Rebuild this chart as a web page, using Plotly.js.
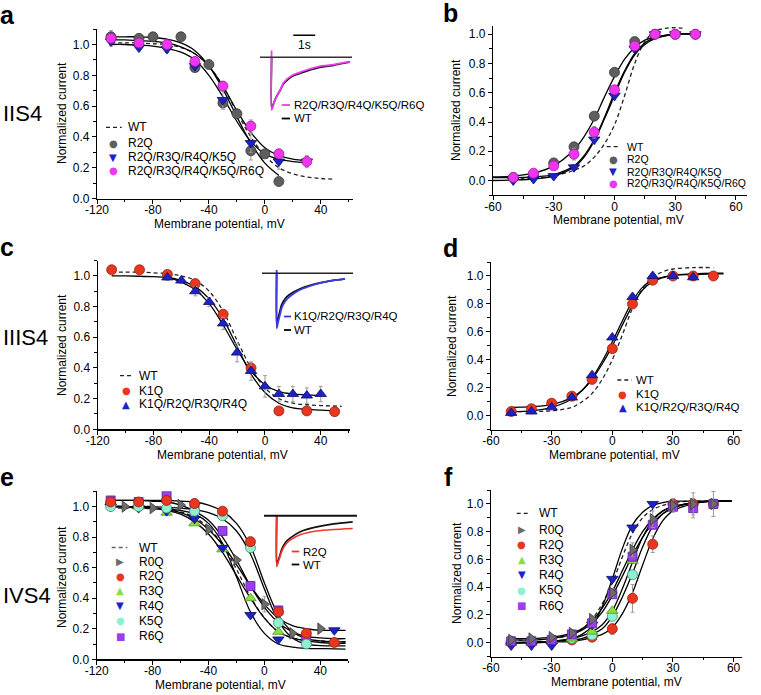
<!DOCTYPE html>
<html><head><meta charset="utf-8">
<script src="https://cdn.plot.ly/plotly-3.0.1.min.js"></script>
<style>html,body{margin:0;padding:0;background:#fff;} #chart{width:761px;height:695px;}</style>
</head><body><div id="chart"></div>
<script>
// ================= DATA =================
// tick labels
const xTicksInact = [-120,-80,-40,0,40];
const xTickTextInact = ['-120','-80','-40','0','40'];
const xTicksAct = [-60,-30,0,30,60];
const xTickTextAct = ['-60','-30','0','30','60'];
const yTicks = [0,0.2,0.4,0.6,0.8,1.0];
const yTickText = ['0.0','0.2','0.4','0.6','0.8','1.0'];

// ---- Panel a : IIS4 steady-state inactivation ----
const aV_R2Q = [-110,-90,-80,-60,-50,-40,-30,-20,-10,0,10];
const aI_R2Q = [1.05,1.04,1.05,1.05,0.85,0.87,0.62,0.55,0.31,0.29,0.11];
const aE_R2Q = [0.04,0,0,0,0,0,0.03,0,0.06,0,0];
const aV_mut = [-110,-90,-70,-50,-30,-10,10,30];
const aI_K5Q4 = [1.02,0.98,0.97,0.86,0.64,0.36,0.24,0.24];
const aE_K5Q4 = [0.03,0.02,0.02,0.02,0.06,0.06,0.05,0.03];
const aI_R6Q5 = [1.04,1.01,1.00,0.89,0.73,0.47,0.29,0.24];
const aE_R6Q5 = [0.02,0.02,0.02,0.02,0.03,0.04,0.03,0.04];
const aFitV_R2Q = [-110,-100,-90,-80,-70,-60,-50,-40,-30,-20,-10,0,10];
const aFit_R2Q = [1.05,1.05,1.05,1.045,1.035,1.01,0.96,0.86,0.71,0.53,0.36,0.23,0.15];
const aFitV_mut = [-110,-100,-90,-80,-70,-60,-50,-40,-30,-20,-10,0,10,20,30];
const aFit_K5Q4 = [1.0,1.0,0.995,0.99,0.975,0.95,0.9,0.8,0.66,0.5,0.37,0.29,0.255,0.24,0.235];
const aFit_R6Q5 = [1.03,1.03,1.025,1.02,1.01,0.985,0.94,0.86,0.73,0.57,0.43,0.33,0.28,0.255,0.245];
const aFitV_WT = [-110,-100,-90,-80,-70,-60,-50,-40,-30,-20,-10,0,10,20,30,40,50];
const aFit_WT = [1.01,1.01,1.01,1.005,1.0,0.98,0.94,0.86,0.73,0.56,0.40,0.28,0.20,0.16,0.14,0.13,0.125];
// inset a: current traces (time s, normalized current)
const aTr_t = [0.53,0.53,0.60,0.67,0.76,0.94,1.06,1.27,1.52,1.85,2.13,2.45,2.72,3.05,3.35,3.70,4.10];
const aTr_mut = [0.13,-1.0,-0.92,-0.83,-0.75,-0.60,-0.49,-0.40,-0.33,-0.28,-0.24,-0.20,-0.17,-0.155,-0.14,-0.11,-0.08];
const aTr_WT = [0,-0.98,-0.90,-0.82,-0.74,-0.61,-0.51,-0.42,-0.35,-0.30,-0.26,-0.22,-0.19,-0.17,-0.15,-0.12,-0.09];

// ---- Panel b : IIS4 activation ----
const bV = [-50,-40,-30,-20,-10,0,10,20,30,40];
const bI_R2Q = [0.02,0.04,0.12,0.23,0.44,0.74,0.95,1.0,1.0,1.0];
const bE_R2Q = [0,0,0.03,0.03,0,0,0,0,0,0];
const bI_K5Q4 = [0.0,0.01,0.03,0.09,0.28,0.58,0.90,1.0,1.0,1.0];
const bE_K5Q4 = [0,0,0,0.02,0.03,0.03,0,0,0,0];
const bI_R6Q5 = [0.02,0.05,0.10,0.18,0.33,0.62,0.92,1.0,1.0,1.0];
const bE_R6Q5 = [0,0,0,0.04,0.04,0,0,0,0,0];
const bFitV = [-60,-50,-40,-30,-20,-15,-10,-5,0,5,10,15,20,30,40];
const bFit_R2Q = [0.025,0.03,0.05,0.10,0.21,0.30,0.42,0.57,0.71,0.83,0.91,0.96,0.98,1.0,1.005];
const bFit_K5Q4 = [0.0,0.003,0.01,0.03,0.09,0.16,0.27,0.42,0.58,0.74,0.86,0.93,0.97,1.0,1.0];
const bFit_R6Q5 = [0.02,0.02,0.025,0.04,0.10,0.17,0.28,0.43,0.60,0.75,0.87,0.94,0.975,1.0,1.0];
const bFitV_WT = [-50,-40,-30,-20,-15,-10,-5,0,5,10,15,20,25,30,35];
const bFit_WT = [0.01,0.015,0.03,0.07,0.10,0.16,0.25,0.38,0.58,0.80,0.95,1.02,1.04,1.045,1.04];

// ---- Panel c : IIIS4 inactivation ----
const cV_K1Q = [-110,-90,-70,-50,-30,-10,10,30,50];
const cI_K1Q = [1.04,1.04,1.01,0.95,0.75,0.40,0.12,0.12,0.115];
const cE_K1Q = [0,0,0,0.02,0.02,0.03,0,0,0];
const cV_R4Q4 = [-70,-60,-50,-40,-30,-20,-10,0,10,20,30,40];
const cI_R4Q4 = [0.99,0.97,0.90,0.83,0.69,0.50,0.38,0.28,0.23,0.23,0.22,0.23];
const cE_R4Q4 = [0.02,0.02,0.03,0.03,0.04,0.06,0.06,0.07,0.05,0.05,0.05,0.05];
const cFitV_K1Q = [-110,-100,-90,-80,-70,-60,-50,-40,-30,-20,-10,0,10,20,30,40,50];
const cFit_K1Q = [1.0,1.0,0.998,0.995,0.99,0.97,0.93,0.85,0.72,0.54,0.36,0.24,0.17,0.14,0.13,0.125,0.12];
const cFitV_R4Q4 = [-70,-60,-50,-40,-30,-20,-10,0,10,20,30,40];
const cFit_R4Q4 = [0.99,0.96,0.91,0.82,0.68,0.52,0.38,0.29,0.245,0.23,0.225,0.22];
const cFitV_WT = [-110,-100,-90,-80,-70,-60,-50,-40,-30,-20,-10,0,10,20,30,40,55];
const cFit_WT = [1.025,1.025,1.025,1.02,1.015,1.0,0.97,0.90,0.77,0.58,0.40,0.27,0.20,0.17,0.16,0.155,0.15];
// inset c
const cTr_t = [0.67,0.67,0.74,0.81,0.90,1.08,1.28,1.74,2.35,2.95,3.41,3.79];
const cTr_mut = [0.06,-1.0,-0.88,-0.77,-0.63,-0.50,-0.42,-0.30,-0.21,-0.15,-0.12,-0.10];
const cTr_WT = [0,-0.95,-0.82,-0.70,-0.57,-0.45,-0.38,-0.28,-0.20,-0.15,-0.12,-0.10];

// ---- Panel d : IIIS4 activation ----
const dV_K1Q = [-50,-40,-30,-20,-10,0,10,20,30,40,50];
const dI_K1Q = [0.03,0.05,0.09,0.14,0.26,0.48,0.80,0.97,1.0,1.0,1.0];
const dV_R4Q4 = [-50,-40,-30,-20,-10,0,10,20,30,40];
const dI_R4Q4 = [0.02,0.03,0.06,0.13,0.29,0.56,0.85,1.0,1.0,0.99];
const dFitV = [-50,-40,-30,-20,-15,-10,-5,0,5,10,15,20,30,40,50,55];
const dFit_K1Q = [0.06,0.065,0.08,0.13,0.18,0.26,0.37,0.50,0.65,0.79,0.90,0.96,1.005,1.015,1.02,1.02];
const dFit_R4Q4 = [0.03,0.035,0.06,0.12,0.18,0.27,0.39,0.53,0.68,0.82,0.92,0.97,1.005,1.01,1.015,1.015];
const dFitV_WT = [-50,-40,-30,-20,-15,-10,-5,0,5,10,15,20,25,30,40,50];
const dFit_WT = [0.03,0.03,0.035,0.06,0.10,0.16,0.26,0.40,0.58,0.77,0.91,0.99,1.03,1.05,1.06,1.06];

// ---- Panel e : IVS4 inactivation ----
const eV_R0Q = [-100,-80,-60,-40,-20,0,20,40];
const eI_R0Q = [1.0,0.99,1.01,0.85,0.65,0.36,0.17,0.20];
const eE_R0Q = [0,0,0,0,0,0.05,0.02,0];
const eV_R2Q = [-110,-90,-70,-50,-30,-10,10,30,50];
const eI_R2Q = [1.03,1.03,1.04,1.02,0.97,0.77,0.31,0.17,0.11];
const eE_R2Q = [0,0,0,0.03,0,0.03,0,0,0];
const eV_R3Q = [-110,-90,-70,-50,-30,-10,10,50];
const eI_R3Q = [1.03,1.0,0.96,0.89,0.72,0.40,0.18,0.11];
const eV_R4Q = [-110,-90,-70,-50,-30,-10,10,50];
const eI_R4Q = [1.0,0.99,0.97,0.92,0.73,0.29,0.13,0.19];
const eV_K5Q = [-110,-90,-70,-50,-30,-10,10,30];
const eI_K5Q = [1.0,1.0,0.99,0.97,0.94,0.73,0.24,0.10];
const eV_R6Q = [-110,-90,-70,-50,-30,-10,10,30];
const eI_R6Q = [1.04,1.03,1.07,0.99,0.84,0.48,0.32,0.13];
const eFitV = [-110,-100,-90,-80,-70,-60,-50,-40,-30,-20,-10,0,10,20,30,40,50,58];
const eFit_WT  = [0.99,0.99,0.99,0.985,0.98,0.965,0.93,0.86,0.75,0.59,0.41,0.27,0.18,0.14,0.125,0.12,0.115,0.115];
const eFit_R0Q = [1.0,1.0,0.995,0.99,0.98,0.96,0.92,0.85,0.75,0.62,0.48,0.36,0.27,0.22,0.20,0.19,0.19,0.19];
const eFit_R2Q = [1.04,1.04,1.04,1.04,1.04,1.035,1.03,1.01,0.97,0.89,0.74,0.50,0.29,0.18,0.135,0.12,0.115,0.115];
const eFit_R3Q = [1.0,1.0,0.995,0.99,0.975,0.95,0.90,0.82,0.70,0.55,0.40,0.27,0.18,0.14,0.12,0.11,0.105,0.105];
const eFit_R4Q = [1.0,1.0,0.995,0.99,0.985,0.975,0.95,0.89,0.76,0.54,0.31,0.17,0.10,0.08,0.072,0.07,0.068,0.066];
const eFit_K5Q = [1.0,1.0,1.0,1.0,0.995,0.99,0.98,0.96,0.92,0.84,0.69,0.46,0.25,0.14,0.10,0.09,0.088,0.088];
const eFit_R6Q = [1.04,1.04,1.04,1.035,1.03,1.01,0.97,0.91,0.80,0.65,0.48,0.34,0.24,0.18,0.15,0.14,0.135,0.135];
// inset e
const eTr_t = [0.58,0.58,0.65,0.72,0.81,0.99,1.22,1.68,2.41,3.18,4.05];
const eTr_R2Q = [0,-1.0,-0.90,-0.82,-0.70,-0.56,-0.47,-0.37,-0.30,-0.27,-0.25];
const eTr_WT = [0,-0.97,-0.88,-0.79,-0.66,-0.52,-0.43,-0.31,-0.22,-0.16,-0.12];

// ---- Panel f : IVS4 activation ----
const fV = [-50,-40,-30,-20,-10,0,10,20,30,40,50];
const fI_R0Q = [0.02,0.03,0.04,0.07,0.17,0.36,0.67,0.89,0.99,1.0,1.0];
const fE_R0Q = [0,0,0,0,0.02,0.03,0.05,0.06,0.05,0.08,0.09];
const fI_R2Q = [0.01,0.01,0.01,0.02,0.04,0.10,0.32,0.71,1.0,1.0,1.0];
const fE_R2Q = [0,0,0,0,0,0.04,0.1,0.06,0,0,0];
const fV_R3Q = [-50,-40,-30,-20,-10,0,10];
const fI_R3Q = [0.0,0.0,0.01,0.03,0.08,0.23,0.59];
const fV_R4Q = [-50,-40,-30,-10,0,10,20];
const fI_R4Q = [-0.02,-0.02,-0.02,0.13,0.46,0.83,1.0];
const fV_K5Q = [-50,-40,-30,-20,-10,0,10];
const fI_K5Q = [0.01,0.01,0.01,0.03,0.055,0.19,0.49];
const fI_R6Q = [0.01,0.01,0.02,0.06,0.14,0.35,0.62,0.85,0.98,0.97,1.0];
const fE_R6Q = [0,0,0,0,0,0,0,0,0,0.07,0];
const fFitV = [-50,-40,-30,-20,-15,-10,-5,0,5,10,15,20,25,30,40,50,59];
const fFit_WT  = [0.02,0.02,0.03,0.06,0.10,0.17,0.28,0.43,0.62,0.79,0.90,0.96,0.99,1.01,1.02,1.02,1.02];
const fFit_R0Q = [0.03,0.03,0.04,0.07,0.10,0.16,0.25,0.37,0.52,0.67,0.80,0.89,0.95,0.98,1.01,1.02,1.02];
const fFit_R2Q = [0.0,0.0,0.005,0.01,0.02,0.04,0.06,0.11,0.21,0.36,0.56,0.75,0.88,0.95,1.0,1.02,1.02];
const fFit_R3Q = [0.0,0.005,0.01,0.03,0.05,0.08,0.13,0.23,0.39,0.58,0.76,0.88,0.95,0.98,1.01,1.02,1.02];
const fFit_R4Q = [0.0,0.0,0.01,0.03,0.06,0.12,0.26,0.46,0.68,0.85,0.94,0.99,1.01,1.02,1.02,1.02,1.02];
const fFit_K5Q = [0.0,0.005,0.01,0.02,0.03,0.06,0.10,0.19,0.33,0.50,0.69,0.84,0.93,0.97,1.01,1.02,1.02];
const fFit_R6Q = [0.02,0.02,0.03,0.06,0.09,0.14,0.22,0.34,0.48,0.63,0.76,0.86,0.93,0.97,1.01,1.02,1.02];

// ================= STYLE =================
const W = 761, H = 695;
const FONT = 'Liberation Sans, Arial, sans-serif';
const GLYPH = 'DejaVu Sans, sans-serif';
const PX = x => x / W, PY = y => 1 - y / H;
const dX = (a, b) => [PX(a), PX(b)];
const dY = (top, bot) => [PY(bot), PY(top)];

const C = {
  gray:['#5e5e5e','#383838'], blue:['#1e22c6','#0c0c6a'], mag:['#f034f0','#a01ea0'],
  red:['#e8361f','#9a200f'], green:['#8ae03c','#4e9420'], cyan:['#8ef2d2','#3c8a72'],
  purple:['#9a3ef0','#5c20a0'], gtri:['#6c6c6c','#3a3a3a']
};

const traces = [];
function fit(x, y, ax, dash) {
  traces.push({type:'scatter', mode:'lines', x:x, y:y, xaxis:'x'+ax, yaxis:'y'+ax,
    line:{color: dash ? '#222' : '#000', width: 1.3, dash: dash ? '4px,3px' : 'solid', shape:'spline', smoothing:1},
    hoverinfo:'skip'});
}
function pts(x, y, ax, sym, col, size, err) {
  const t = {type:'scatter', mode:'markers', x:x, y:y, xaxis:'x'+ax, yaxis:'y'+ax,
    marker:{symbol:sym, color:col[0], size:size, line:{color:col[1], width:0.8}}, hoverinfo:'skip'};
  if (err) t.error_y = {type:'data', array:err, color:'#9a9a9a', thickness:1, width:2};
  traces.push(t);
}
function trace(x, y, ax, col, w) {
  traces.push({type:'scatter', mode:'lines', x:x, y:y, xaxis:'x'+ax, yaxis:'y'+ax,
    line:{color:col, width:w, shape:'spline', smoothing:0.6}, hoverinfo:'skip'});
}

// Panel a (1)
fit(aFitV_WT, aFit_WT, '', true);
fit(aFitV_R2Q, aFit_R2Q, '');
fit(aFitV_mut, aFit_K5Q4, '');
fit(aFitV_mut, aFit_R6Q5, '');
pts(aV_R2Q, aI_R2Q, '', 'circle', C.gray, 10, aE_R2Q);
pts(aV_mut, aI_K5Q4, '', 'triangle-down', C.blue, 10, aE_K5Q4);
pts(aV_mut, aI_R6Q5, '', 'circle', C.mag, 10, aE_R6Q5);
// Panel b (2)
fit(bFitV_WT, bFit_WT, '2', true);
fit(bFitV, bFit_R2Q, '2');
fit(bFitV, bFit_K5Q4, '2');
fit(bFitV, bFit_R6Q5, '2');
pts(bV, bI_R2Q, '2', 'circle', C.gray, 10, bE_R2Q);
pts(bV, bI_K5Q4, '2', 'triangle-down', C.blue, 10, bE_K5Q4);
pts(bV, bI_R6Q5, '2', 'circle', C.mag, 10, bE_R6Q5);
// Panel c (3)
fit(cFitV_WT, cFit_WT, '3', true);
fit(cFitV_K1Q, cFit_K1Q, '3');
fit(cFitV_R4Q4, cFit_R4Q4, '3');
pts(cV_K1Q, cI_K1Q, '3', 'circle', C.red, 10, cE_K1Q);
pts(cV_R4Q4, cI_R4Q4, '3', 'triangle-up', C.blue, 10, cE_R4Q4);
// Panel d (4)
fit(dFitV_WT, dFit_WT, '4', true);
fit(dFitV, dFit_K1Q, '4');
fit(dFitV, dFit_R4Q4, '4');
pts(dV_K1Q, dI_K1Q, '4', 'circle', C.red, 10);
pts(dV_R4Q4, dI_R4Q4, '4', 'triangle-up', C.blue, 10);
// Panel e (5)
fit(eFitV, eFit_WT, '5', true);
[eFit_R0Q, eFit_R2Q, eFit_R3Q, eFit_R4Q, eFit_K5Q, eFit_R6Q].forEach(f => fit(eFitV, f, '5'));
pts(eV_R0Q, eI_R0Q, '5', 'triangle-right', C.gtri, 10, eE_R0Q);
pts(eV_R3Q, eI_R3Q, '5', 'triangle-up', C.green, 10);
pts(eV_R4Q, eI_R4Q, '5', 'triangle-down', C.blue, 10);
pts(eV_R6Q, eI_R6Q, '5', 'square', C.purple, 9);
pts(eV_K5Q, eI_K5Q, '5', 'circle', C.cyan, 10);
pts(eV_R2Q, eI_R2Q, '5', 'circle', C.red, 10, eE_R2Q);
// Panel f (6)
fit(fFitV, fFit_WT, '6', true);
[fFit_R0Q, fFit_R2Q, fFit_R3Q, fFit_R4Q, fFit_K5Q, fFit_R6Q].forEach(f => fit(fFitV, f, '6'));
pts(fV, fI_R2Q, '6', 'circle', C.red, 10, fE_R2Q);
pts(fV_K5Q, fI_K5Q, '6', 'circle', C.cyan, 10);
pts(fV_R3Q, fI_R3Q, '6', 'triangle-up', C.green, 10);
pts(fV_R4Q, fI_R4Q, '6', 'triangle-down', C.blue, 10);
pts(fV, fI_R6Q, '6', 'square', C.purple, 9, fE_R6Q);
pts(fV, fI_R0Q, '6', 'triangle-right', C.gtri, 10, fE_R0Q);
// Insets (7: a, 8: c, 9: e)
trace(aTr_t, aTr_WT, '7', '#111', 1.8);
trace(aTr_t, aTr_mut, '7', '#ee3cee', 1.8);
trace(cTr_t, cTr_WT, '8', '#111', 1.8);
trace(cTr_t, cTr_mut, '8', '#3a3ae8', 1.8);
trace(eTr_t, eTr_WT, '9', '#111', 1.8);
trace(eTr_t, eTr_R2Q, '9', '#ee3a2a', 1.6);

// ================= LAYOUT =================
function xAxis(dom, range, tv, tt, minor, anchor) {
  return {domain: dX(dom[0], dom[1]), range: range, anchor: anchor, showline: true, linecolor: '#000', linewidth: 1.2,
    ticks: 'outside', ticklen: 4, tickwidth: 1, tickcolor: '#000', tickmode: 'array', tickvals: tv, ticktext: tt,
    ticklabelstandoff: -4,
    minor: {ticks: 'outside', ticklen: 2.5, tickwidth: 1, tickcolor: '#000', tickmode: 'linear', tick0: 0, dtick: minor},
    showgrid: false, zeroline: false, tickfont: {family: FONT, size: 12, color: '#000'}, automargin: false, fixedrange: true};
}
function yAxis(dom, range, anchor) {
  return {domain: dY(dom[0], dom[1]), range: range, anchor: anchor, showline: true, linecolor: '#000', linewidth: 1.2,
    ticks: 'outside', ticklen: 4, tickwidth: 1, tickcolor: '#000', tickmode: 'array', tickvals: yTicks, ticktext: yTickText,
    minor: {ticks: 'outside', ticklen: 2.5, tickwidth: 1, tickcolor: '#000', tickmode: 'linear', tick0: 0, dtick: 0.1},
    showgrid: false, zeroline: false, tickfont: {family: FONT, size: 12, color: '#000'}, automargin: false, fixedrange: true};
}
function insetAx(dom, range, anchor, isY) {
  return {domain: isY ? dY(dom[0], dom[1]) : dX(dom[0], dom[1]), range: range, anchor: anchor, visible: false,
    showgrid: false, zeroline: false, fixedrange: true};
}
const RATE = 21.9; // px per second in insets

const layout = {
  width: W, height: H, margin: {l:0, r:0, t:0, b:0}, paper_bgcolor: '#fff', plot_bgcolor: 'rgba(0,0,0,0)',
  showlegend: false, font: {family: FONT, size: 12, color: '#000'},
  xaxis:  xAxis([97, 353], [-120, 63], xTicksInact, xTickTextInact, 20, 'y'),
  yaxis:  yAxis([29.1, 198.5], [0, 1.1], 'x'),
  xaxis2: xAxis([493, 746.7], [-60, 65.3], xTicksAct, xTickTextAct, 15, 'y2'),
  yaxis2: yAxis([25.5, 195.1], [-0.1, 1.06], 'x2'),
  xaxis3: xAxis([97.7, 350], [-120, 61], xTicksInact, xTickTextInact, 20, 'y3'),
  yaxis3: yAxis([260.6, 429.3], [0, 1.1], 'x3'),
  xaxis4: xAxis([491, 741.7], [-60, 64], xTicksAct, xTickTextAct, 15, 'y4'),
  yaxis4: yAxis([262, 429.7], [-0.1, 1.1], 'x4'),
  xaxis5: xAxis([96.7, 348.3], [-120, 60], xTicksInact, xTickTextInact, 20, 'y5'),
  yaxis5: yAxis([491.3, 659.3], [0, 1.1], 'x5'),
  xaxis6: xAxis([491, 741.7], [-60, 64], xTicksAct, xTickTextAct, 15, 'y6'),
  yaxis6: yAxis([490.1, 656.6], [-0.1, 1.1], 'x6'),
  xaxis7: insetAx([260, 352], [0, 92 / RATE], 'y7'),
  yaxis7: insetAx([31, 115.3], [-1.1, 0.5], 'x7', true),
  xaxis8: insetAx([262, 353], [0, 91 / RATE], 'y8'),
  yaxis8: insetAx([245.8, 333.8], [-1.1, 0.5], 'x8', true),
  xaxis9: insetAx([264, 357], [0, 93 / RATE], 'y9'),
  yaxis9: insetAx([490.2, 571.8], [-1.1, 0.5], 'x9', true),
  shapes: [], annotations: []
};

const A = layout.annotations, S = layout.shapes;
function txt(x, y, text, o) {
  o = o || {};
  A.push({xref:'paper', yref:'paper', x:PX(x), y:PY(y), text:text, showarrow:false,
    xanchor:o.xa || 'left', yanchor:o.ya || 'middle', textangle:o.angle || 0,
    font:{family:o.family || FONT, size:o.size || 12, color:o.color || '#000', weight:o.weight || 'normal'}});
}
function hline(x0, x1, y, col, w, dash) {
  S.push({type:'line', xref:'paper', yref:'paper', x0:PX(x0), x1:PX(x1), y0:PY(y), y1:PY(y),
    line:{color:col, width:w, dash:dash || 'solid'}});
}
const GL = {circle:'●', down:'▼', up:'▲', right:'▶', square:'■'};
function legend(rows, dashX, glyphX, textX, fs) {
  rows.forEach(r => {
    if (r.dash) hline(dashX[0], dashX[1], r.y, r.dcol || '#222', 1.3, '4px,3px');
    else txt(glyphX, r.y, GL[r.g], {xa:'center', family:GLYPH, size:r.gs || 10, color:r.c});
    txt(textX, r.y, r.t, {size: fs || 12});
  });
}

// Axis titles
[[219, 224, 62, 113], [618, 220, 456, 110], [222, 455, 62, 345], [614, 455, 452, 346], [220, 685, 62, 577], [616, 682, 457, 573]]
  .forEach(p => {
    txt(p[0], p[1], 'Membrane potential, mV', {xa:'center'});
    txt(p[2], p[3], 'Normalized current', {xa:'center', angle:-90});
  });

// Panel letters and row labels
[['a', 7, 15], ['b', 450, 13], ['c', 7, 247], ['d', 450, 248], ['e', 7, 477], ['f', 448, 477]]
  .forEach(p => txt(p[1], p[2], p[0], {xa:'center', size:25, weight:'bold'}));
[['IIS4', 113], ['IIIS4', 337], ['IVS4', 595]].forEach(p => txt(1, p[1], p[0], {xa:'left', size:22}));

// Legends
legend([{y:127.3, dash:true, t:'WT'}, {y:143.3, g:'circle', c:C.gray[0], t:'R2Q'},
        {y:157.3, g:'down', c:C.blue[0], t:'R2Q/R3Q/R4Q/K5Q'}, {y:170.7, g:'circle', c:C.mag[0], t:'R2Q/R3Q/R4Q/K5Q/R6Q'}],
       [106, 121.7], 113, 126);
legend([{y:146.7, dash:true, t:'WT'}, {y:159.5, g:'circle', c:C.gray[0], t:'R2Q'},
        {y:171.5, g:'down', c:C.blue[0], t:'R2Q/R3Q/R4Q/K5Q'}, {y:183.3, g:'circle', c:C.mag[0], t:'R2Q/R3Q/R4Q/K5Q/R6Q'}],
       [606.7, 620.7], 613.3, 625, 10.5);
legend([{y:375.7, dash:true, t:'WT'}, {y:390.5, g:'circle', c:C.red[0], t:'K1Q'},
        {y:404, g:'up', c:C.blue[0], t:'K1Q/R2Q/R3Q/R4Q'}],
       [120, 133.3], 126, 136.5);
legend([{y:380, dash:true, t:'WT'}, {y:394, g:'circle', c:C.red[0], t:'K1Q'},
        {y:407.3, g:'up', c:C.blue[0], t:'K1Q/R2Q/R3Q/R4Q'}],
       [617.3, 631.7], 622.7, 634, 11.5);
legend([{y:547.5, dash:true, dcol:'#666', t:'WT'}, {y:561.5, g:'right', c:C.gtri[0], t:'R0Q'},
        {y:576, g:'circle', c:C.red[0], t:'R2Q'}, {y:590.5, g:'up', c:C.green[0], t:'R3Q'},
        {y:605.5, g:'down', c:C.blue[0], t:'R4Q'}, {y:620.5, g:'circle', c:C.cyan[0], t:'K5Q'},
        {y:636, g:'square', c:C.purple[0], t:'R6Q'}],
       [111.7, 127.3], 120, 136.7);
legend([{y:513.3, dash:true, t:'WT'}, {y:529.5, g:'right', c:C.gtri[0], t:'R0Q'},
        {y:544.5, g:'circle', c:C.red[0], t:'R2Q'}, {y:559.5, g:'up', c:C.green[0], t:'R3Q'},
        {y:574.5, g:'down', c:C.blue[0], t:'R4Q'}, {y:590, g:'circle', c:C.cyan[0], t:'K5Q'},
        {y:605.5, g:'square', c:C.purple[0], t:'R6Q'}],
       [516.7, 528.3], 521.7, 536.7);

// Inset decorations: zero-current baselines, scale bar, inset legends
[['7', '#333', 1.5], ['8', '#222', 1.5], ['9', '#111', 2]].forEach(p => {
  S.push({type:'line', xref:'x'+p[0]+' domain', yref:'y'+p[0], x0:0, x1:1, y0:0, y1:0, line:{color:p[1], width:p[2]}});
});
S.push({type:'line', xref:'x7', yref:'y7', x0:1.52, x1:2.52, y0:0.42, y1:0.42, line:{color:'#000', width:1.5}});
txt(304.5, 45, '1s', {xa:'center'});
hline(281.7, 290, 105, '#ee3cee', 1.8); txt(291.7, 105, 'R2Q/R3Q/R4Q/K5Q/R6Q', {size:11.5});
hline(281.7, 290, 118.5, '#000', 1.8); txt(291.7, 118.5, 'WT', {size:11.5});
hline(284, 291, 316.5, '#3a3ae8', 1.8); txt(292, 316.5, 'K1Q/R2Q/R3Q/R4Q', {size:11.5});
hline(284, 291, 330, '#000', 1.8); txt(292, 330, 'WT', {size:11.5});
hline(291.7, 299.3, 551.5, '#ee3a2a', 1.8); txt(300.7, 551.5, 'R2Q', {size:11.5});
hline(291.7, 299.3, 564.5, '#000', 1.8); txt(300.7, 564.5, 'WT', {size:11.5});

Plotly.newPlot('chart', traces, layout, {staticPlot: true, displayModeBar: false});
</script></body></html>
